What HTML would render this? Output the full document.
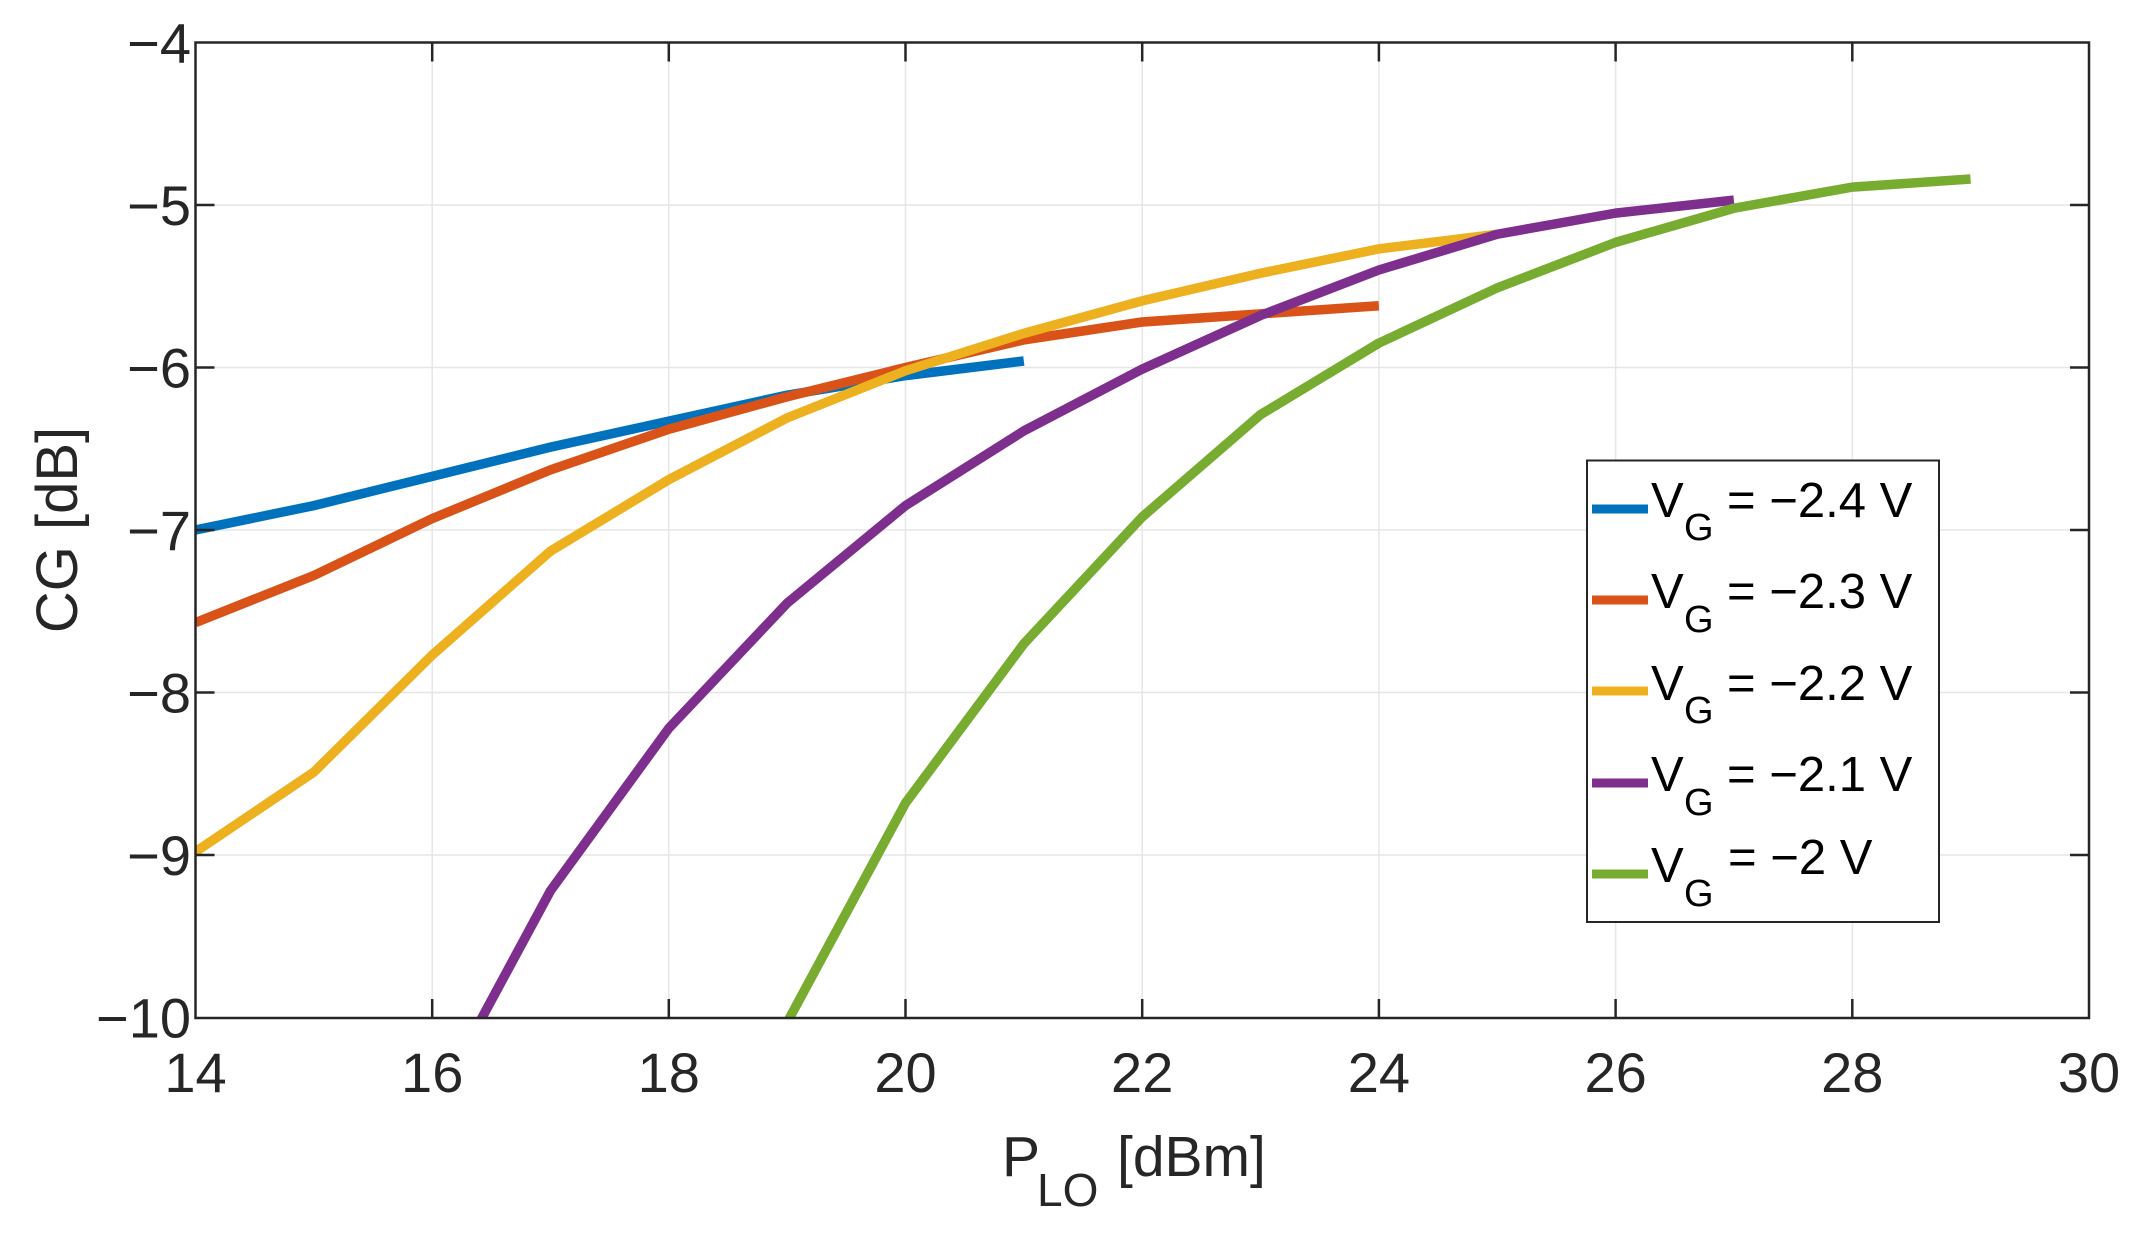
<!DOCTYPE html>
<html><head><meta charset="utf-8"><style>
html,body{margin:0;padding:0;background:#fff;}
svg{display:block;font-family:"Liberation Sans",sans-serif;}
</style></head><body>
<svg width="2143" height="1237" viewBox="0 0 2143 1237" xmlns="http://www.w3.org/2000/svg">
<defs><clipPath id="c"><rect x="195.5" y="42.5" width="1893.5" height="975.5"/></clipPath></defs>
<rect x="195.5" y="42.5" width="1893.5" height="975.5" fill="#fff"/>
<g stroke="#e6e6e6" stroke-width="1.5">
<line x1="432.2" y1="42.5" x2="432.2" y2="1018"/>
<line x1="668.8" y1="42.5" x2="668.8" y2="1018"/>
<line x1="905.5" y1="42.5" x2="905.5" y2="1018"/>
<line x1="1142.2" y1="42.5" x2="1142.2" y2="1018"/>
<line x1="1378.9" y1="42.5" x2="1378.9" y2="1018"/>
<line x1="1615.6" y1="42.5" x2="1615.6" y2="1018"/>
<line x1="1852.3" y1="42.5" x2="1852.3" y2="1018"/>
<line x1="195.5" y1="205" x2="2089" y2="205"/>
<line x1="195.5" y1="367.5" x2="2089" y2="367.5"/>
<line x1="195.5" y1="530" x2="2089" y2="530"/>
<line x1="195.5" y1="692.5" x2="2089" y2="692.5"/>
<line x1="195.5" y1="855" x2="2089" y2="855"/>
</g>
<g clip-path="url(#c)" fill="none" stroke-width="9.5" stroke-linejoin="round">
<g transform="matrix(118.34,0,0,-162.5,-1461.3,-607.5)">
<polyline vector-effect="non-scaling-stroke" stroke="#0072bd" points="14,-7.0 15,-6.85 16,-6.67 17,-6.49 18,-6.33 19,-6.17 20,-6.05 21,-5.96"/>
<polyline vector-effect="non-scaling-stroke" stroke="#d95319" points="14,-7.57 15,-7.28 16,-6.93 17,-6.63 18,-6.38 19,-6.18 20,-6.0 21,-5.83 22,-5.72 23,-5.67 24,-5.62"/>
<polyline vector-effect="non-scaling-stroke" stroke="#edb120" points="14,-8.98 15,-8.49 16,-7.77 17,-7.13 18,-6.69 19,-6.31 20,-6.02 21,-5.79 22,-5.59 23,-5.42 24,-5.27 25,-5.18"/>
<polyline vector-effect="non-scaling-stroke" stroke="#7e2f8e" points="16.2,-10.3 17,-9.22 18,-8.22 19,-7.45 20,-6.85 21,-6.39 22,-6.01 23,-5.68 24,-5.40 25,-5.18 26,-5.05 27,-4.97"/>
<polyline vector-effect="non-scaling-stroke" stroke="#77ac30" points="18.8,-10.3 20,-8.68 21,-7.7 22,-6.92 23,-6.29 24,-5.85 25,-5.51 26,-5.23 27,-5.02 28,-4.89 29,-4.84"/>
</g></g>
<g stroke="#262626" stroke-width="2.5" fill="none">
<rect x="195.5" y="42.5" width="1893.5" height="975.5"/>
<path d="M432.2,1018v-19M668.8,1018v-19M905.5,1018v-19M1142.2,1018v-19M1378.9,1018v-19M1615.6,1018v-19M1852.3,1018v-19M432.2,42.5v19M668.8,42.5v19M905.5,42.5v19M1142.2,42.5v19M1378.9,42.5v19M1615.6,42.5v19M1852.3,42.5v19"/>
<path d="M195.5,205h19M195.5,367.5h19M195.5,530h19M195.5,692.5h19M195.5,855h19M2089,205h-19M2089,367.5h-19M2089,530h-19M2089,692.5h-19M2089,855h-19"/>
</g>
<g fill="#262626" font-size="56" text-anchor="end">
<text x="191" y="62.5">−4</text>
<text x="191" y="225">−5</text>
<text x="191" y="387.5">−6</text>
<text x="191" y="550">−7</text>
<text x="191" y="712.5">−8</text>
<text x="191" y="875">−9</text>
<text x="191" y="1037.5">−10</text>
</g>
<g fill="#262626" font-size="56" text-anchor="middle">
<text x="195.5" y="1092">14</text>
<text x="432.2" y="1092">16</text>
<text x="668.8" y="1092">18</text>
<text x="905.5" y="1092">20</text>
<text x="1142.2" y="1092">22</text>
<text x="1378.9" y="1092">24</text>
<text x="1615.6" y="1092">26</text>
<text x="1852.3" y="1092">28</text>
<text x="2089" y="1092">30</text>
</g>
<g fill="#262626" font-size="57">
<text x="1002" y="1176">P</text>
<text x="1037" y="1206" font-size="46">LO</text>
<text x="1117" y="1176">[dBm]</text>
<text transform="translate(77,530) rotate(-90)" text-anchor="middle" font-size="58">CG [dB]</text>
</g>
<rect x="1587" y="460.5" width="352" height="461.5" fill="#fff" stroke="#262626" stroke-width="2"/>
<g stroke-width="9">
<line x1="1592" y1="509" x2="1648" y2="509" stroke="#0072bd"/>
<line x1="1592" y1="600" x2="1648" y2="600" stroke="#d95319"/>
<line x1="1592" y1="691" x2="1648" y2="691" stroke="#edb120"/>
<line x1="1592" y1="783" x2="1648" y2="783" stroke="#7e2f8e"/>
<line x1="1592" y1="874" x2="1648" y2="874" stroke="#77ac30"/>
</g>
<g fill="#000" font-size="49">
<text x="1651" y="517">V<tspan x="1684" y="540" font-size="38">G</tspan><tspan x="1727" y="517">= −2.4 V</tspan></text>
<text x="1651" y="608">V<tspan x="1684" y="632" font-size="38">G</tspan><tspan x="1727" y="608">= −2.3 V</tspan></text>
<text x="1651" y="700">V<tspan x="1684" y="723" font-size="38">G</tspan><tspan x="1727" y="700">= −2.2 V</tspan></text>
<text x="1651" y="791">V<tspan x="1684" y="815" font-size="38">G</tspan><tspan x="1727" y="791">= −2.1 V</tspan></text>
<text x="1651" y="882">V<tspan x="1684" y="906" font-size="38">G</tspan><tspan x="1728" y="874">= −2 V</tspan></text>
</g>
</svg>
</body></html>
